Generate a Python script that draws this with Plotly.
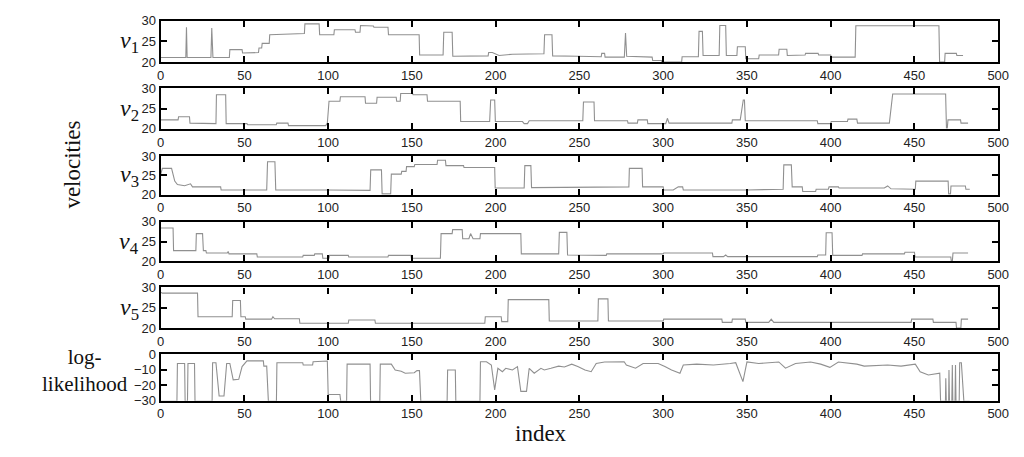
import plotly.graph_objects as go

# ---------------- data ----------------
V1 = [(0,21.1),(15,21.1),(15.4,28.4),(15.8,21.1),(30,21.1),(30.5,28.2),(31.2,21.1),(41,21.1),(41.3,23.0),(48.6,23.0),
      (48.9,22.2),(58.4,22.3),(58.7,23.4),(60.3,23.4),(60.6,24.5),(64.8,24.5),(65.1,26.6),(76,26.7),(85.8,26.9),(86.1,29.2),
      (94.6,29.2),(94.9,26.6),(103.4,26.6),(103.7,27.8),(116,27.8),(116.3,27.2),(119,27.2),(119.3,28.8),(127,28.7),(127.3,28.4),
      (135.7,28.4),(136,26.6),(154.3,26.6),(154.6,21.7),(168.6,21.7),(169,27.2),(174,27.2),(174.4,21.4),(195.5,21.5),(195.8,22.3),
      (198,22.3),(202,21.6),(210,21.9),(228.8,22.0),(229.2,26.6),(233.6,26.6),(234,21.5),(249,21.4),(263,21.3),(263.3,22.1),
      (265,22.1),(265.3,21.2),(276.8,21.2),(277.5,27.0),(278.2,21.4),(293.4,21.2),(293.7,20.4),(299,20.4),(299.3,20.0),(311,20.0),
      (311.3,21.3),(321,21.3),(321.4,27.4),(323.4,27.4),(323.8,21.6),(333.4,21.6),(333.8,28.8),(337.3,28.8),(337.7,21.6),(344,21.6),
      (344.3,23.7),(349,23.7),(349.3,20.8),(357,20.8),(357.3,21.7),(368.9,21.7),(369.2,23.1),(373.8,23.1),(374.1,21.6),(384.7,21.7),
      (385,22.1),(392.5,22.1),(392.8,21.7),(400,21.7),(400.3,21.2),(414.6,21.2),(415,28.75),(464.6,28.75),(465,20.0),(468,20.0),
      (468.3,22.1),(475,22.1),(475.3,21.6),(479,21.6)]

V2 = [(0,22.2),(10.4,22.2),(10.7,23.0),(17.2,23.0),(17.5,21.4),(26,21.4),(33,21.3),(33.3,28.4),(38.8,28.4),(39.1,21.3),
      (51.5,21.3),(52,21.0),(69,21.0),(69.3,21.4),(76,21.4),(76.3,20.8),(98.5,20.8),(99.5,21.4),(100.5,26.8),(107,26.8),
      (107.3,27.9),(122,27.9),(122.3,26.3),(128.9,26.3),(129.2,27.8),(140.6,27.8),(140.9,26.8),(143,26.8),(143.3,28.7),(150.4,28.7),
      (150.7,28.4),(159,28.4),(159.3,26.8),(178.8,26.8),(179.1,21.8),(196.4,21.8),(197,27.1),(199.4,27.1),(199.8,21.8),(216,21.8),
      (217,21.3),(219,21.3),(220,22.0),(252,22.0),(252.4,26.6),(258.7,26.6),(259,22.0),(278.7,22.0),(279,21.4),(284.6,21.4),
      (284.9,22.2),(290.5,22.2),(290.8,21.3),(301.5,21.3),(302.5,22.6),(303.5,21.4),(341,21.4),(341.3,22.2),(346,22.2),(347.8,27.1),
      (348.5,27.1),(349,22.0),(392,22.0),(392.3,21.3),(400,21.3),(400.3,21.8),(410,21.8),(410.3,22.4),(415.6,22.4),(416,21.4),
      (435,21.4),(437,28.6),(468.6,28.6),(469.1,20.2),(469.6,20.2),(470,22.2),(477.5,22.2),(477.8,21.4),(482,21.4)]

V3 = [(0,25.2),(1,26.8),(6.5,26.8),(8.4,23.5),(10,22.6),(14.3,22.3),(17.8,22.8),(19,22.0),(35.8,22.0),(36.1,21.2),
      (63.3,21.2),(63.8,28.5),(68.2,28.5),(68.7,21.2),(100,21.2),(125,21.1),(125.4,26.4),(131.8,26.4),(132.2,20.2),(137.3,20.2),
      (137.7,25.3),(143.6,25.3),(143.9,26.0),(146.5,26.0),(146.8,27.25),(151.4,27.25),(151.7,27.8),(165,27.8),(165.3,28.9),(170,28.9),
      (170.3,27.5),(180.8,27.5),(181.1,27.0),(199.4,27.0),(199.7,21.7),(217,21.7),(217.4,27.5),(221,27.5),(221.4,21.8),(249,21.9),
      (279.5,22.0),(279.8,26.8),(287.4,26.8),(287.7,22.0),(300,22.0),(300.3,21.2),(306,21.2),(309,22.0),(311.6,22.0),(312,21.2),
      (350,21.2),(371.6,21.4),(372,27.7),(376.5,27.7),(377,22.0),(383,22.0),(383.3,20.8),(391,20.8),(391.3,21.4),(398.6,21.4),
      (399,22.0),(404.6,22.0),(405,21.7),(432,21.7),(434,22.25),(436,21.5),(450.5,21.4),(450.8,23.5),(470.1,23.5),(470.4,20.2),
      (471.5,20.2),(471.8,22.25),(480.4,22.25),(480.7,21.4),(483,21.4)]

V4 = [(0,28.4),(7.4,28.4),(7.7,22.7),(21,22.7),(21.3,27.0),(25,27.0),(25.5,22.7),(27,22.7),(27.3,22.1),(39.8,22.1),
      (40.3,22.5),(40.8,21.9),(57.4,21.9),(57.7,21.1),(84.8,21.1),(85.1,21.5),(91.7,21.5),(92,21.9),(96.5,21.9),(96.8,20.8),
      (100.5,20.8),(100.8,21.5),(112,21.5),(112.3,21.1),(135.7,21.1),(136,21.5),(149.4,21.5),(149.7,20.8),(167,20.8),(167.4,27.0),
      (174,27.0),(174.3,28.0),(180,28.0),(180.3,25.7),(184,25.7),(185,27.0),(186.5,25.7),(190.6,25.7),(190.9,27.0),(215,27.0),
      (215.3,21.9),(237.6,21.9),(238,27.3),(242.5,27.3),(242.9,21.6),(266,21.5),(266.3,21.9),(300,21.9),(300.3,22.1),(329.4,22.1),
      (329.7,21.2),(336,21.2),(337.3,21.6),(338.5,21.2),(392,21.2),(392.3,21.6),(397,21.6),(397.3,27.2),(400.8,27.2),(401.2,21.5),
      (418.7,21.5),(419,21.9),(444,21.9),(444.3,22.3),(450,22.3),(450.3,21.1),(471.7,21.1),(472,20.0),(472.6,20.0),(473,22.1),
      (482,22.1)]

V5 = [(0,28.8),(1,28.6),(22,28.6),(22.3,22.8),(42.7,22.8),(43,26.8),(47.6,26.8),(47.9,22.8),(50.5,22.8),(50.8,22.2),
      (66.2,22.2),(67,22.8),(68,22.3),(82.8,22.3),(83.1,21.2),(112,21.2),(112.3,22.0),(127.9,22.0),(128.2,21.2),(193.5,21.2),
      (193.8,22.8),(203.3,22.8),(203.6,21.6),(207.2,21.6),(207.5,27.0),(231.7,27.0),(232,21.76),(261,21.76),(261.3,27.2),(267,27.2),
      (267.3,21.76),(300,21.76),(300.3,22.2),(335,22.2),(335.3,21.4),(341,21.4),(341.3,22.2),(349,22.2),(349.3,21.4),(363,21.4),
      (364.5,22.2),(366,21.4),(448,21.4),(448.3,22.2),(461,22.2),(461.3,21.4),(474.8,21.4),(475.1,20.0),(477.7,20.0),(478,22.2),
      (482,22.2)]

LOGLIK = [(0,-30.5),(9.7,-30.5),(10,-6),(14.3,-6),(14.6,-30.5),(16,-30.5),(16.3,-6),(20.2,-6),(20.5,-30.5),(30.7,-30.5),
          (31,-5.5),(33,-5.5),(34.9,-27),(37.8,-27),(39.4,-6),(41.3,-6),(43.3,-16.6),(46.6,-16.2),(48.6,-8),(51.5,-4.3),
          (61.3,-4.3),(61.6,-7.7),(63.3,-7.7),(64.3,-30.5),(69.1,-30.5),(69.4,-5.5),(84.8,-5.5),(85.1,-7),(90.7,-7),(91,-4.9),
          (99.5,-4.4),(100,-26),(107,-26),(107.5,-30.5),(111,-30.5),(111.3,-6.4),(125,-6.4),(125.3,-30.5),(130.8,-30.5),(131.1,-6.4),
          (137.7,-6.4),(140,-10.2),(143.6,-11),(146,-12.3),(151.4,-12),(153,-10.6),(154.5,-10.6),(155.3,-30.5),(171,-30.5),(171.3,-10.2),
          (175.9,-10.2),(176.2,-30.5),(190.6,-30.5),(190.9,-4.9),(194.5,-4.9),(197.4,-7),(199.4,-23),(201.3,-9.1),(204,-11.3),(206,-9.1),
          (210,-10.2),(213,-8),(215,-24),(218.4,-24),(220,-9.1),(223,-12.3),(227,-9.1),(229,-10.2),(233,-9.1),(237.6,-7.7),
          (241,-8.3),(245.4,-6.4),(249,-8),(253.3,-10.2),(257,-11.3),(260,-6),(265,-5),(276.7,-4.9),(278,-7),(283.5,-9.0),
          (288,-6),(297,-6),(301,-8),(305,-10.2),(310,-12.3),(312,-7),(320,-6.4),(330,-7),(340,-6),(343.3,-5.5),
          (347.6,-17.7),(350,-5),(357,-6),(369,-5),(373,-9),(379,-6),(388,-5),(394,-6.4),(399.5,-8.5),(404.6,-5),
          (415.6,-6.4),(420,-7.7),(434,-7),(442,-7.7),(450.5,-6.4),(453.4,-11.3),(458.3,-13.4),(465.1,-12.3),(465.6,-30.5),(468.5,-30.5),
          (468.7,-15.5),(469,-30.5),(470.4,-30.5),(470.6,-10.2),(470.9,-30.5),(472.3,-30.5),(472.6,-7),(472.9,-30.5),(474.2,-30.5),(474.5,-7),
          (474.8,-30.5),(476.7,-30.5),(477,-5.5),(478,-5.5),(479.5,-30.5),(483,-30.5)]

X_TICKS = [0, 50, 100, 150, 200, 250, 300, 350, 400, 450, 500]
VEL_TICKS = [20, 25, 30]
LL_TICKS = [-30, -20, -10, 0]
VEL_LABELS = ["<i>v</i><sub>1</sub>", "<i>v</i><sub>2</sub>", "<i>v</i><sub>3</sub>",
              "<i>v</i><sub>4</sub>", "<i>v</i><sub>5</sub>"]

# ---------------- layout helpers ----------------
W, H = 1024, 457
def px_x(p): return p / W
def px_y(p): return 1 - p / H

X0, X1 = 159, 1009
panel_px = [(14, 57), (84, 126), (154, 194), (222, 263), (290, 332), (359, 407)]
series = [V1, V2, V3, V4, V5, LOGLIK]

SERIF = "Liberation Serif, Times New Roman, serif"
SANS = "Liberation Sans, Arial, sans-serif"

fig = go.Figure()
layout = dict(width=W, height=H, margin=dict(l=0, r=0, t=0, b=0),
              paper_bgcolor="white", plot_bgcolor="white", showlegend=False)

for i, (data, (top, bot)) in enumerate(zip(series, panel_px)):
    n = i + 1
    xs = [p[0] for p in data]
    ys = [p[1] for p in data]
    fig.add_trace(go.Scatter(x=xs, y=ys, mode="lines",
                             line=dict(color="#909090", width=1.1),
                             xaxis=f"x{n}", yaxis=f"y{n}", hoverinfo="skip"))
    is_ll = (i == 5)
    common = dict(showgrid=False, zeroline=False, showline=True, linecolor="black",
                  linewidth=2.2, mirror="ticks", ticks="inside", ticklen=6,
                  tickwidth=2, tickcolor="black",
                  tickfont=dict(family=SANS, size=13, color="#222"))
    layout[f"xaxis{n}"] = dict(domain=[px_x(X0), px_x(X1)], range=[0, 500],
                               tickvals=X_TICKS, anchor=f"y{n}", **common)
    layout[f"yaxis{n}"] = dict(domain=[px_y(bot), px_y(top)],
                               range=[-30, 0] if is_ll else [20, 30],
                               tickvals=LL_TICKS if is_ll else VEL_TICKS,
                               anchor=f"x{n}", **common)

annotations = []
for i, lab in enumerate(VEL_LABELS):
    top, bot = panel_px[i]
    annotations.append(dict(text=lab, x=px_x(139), y=px_y((top + bot) / 2 + 1), xref="paper", yref="paper",
                            xanchor="right", yanchor="middle", showarrow=False,
                            font=dict(family=SERIF, size=24, color="#111")))
annotations.append(dict(text="velocities", x=px_x(70), y=px_y(163), xref="paper", yref="paper",
                        textangle=-90, xanchor="center", yanchor="middle", showarrow=False,
                        font=dict(family=SERIF, size=23, color="#111")))
annotations.append(dict(text="log-<br>likelihood", x=px_x(82), y=px_y(376), xref="paper", yref="paper",
                        xanchor="center", yanchor="middle", showarrow=False, align="center",
                        font=dict(family=SERIF, size=21, color="#111")))
annotations.append(dict(text="index", x=px_x(545), y=px_y(441), xref="paper", yref="paper",
                        xanchor="center", yanchor="middle", showarrow=False,
                        font=dict(family=SERIF, size=23, color="#111")))
layout["annotations"] = annotations

fig.update_layout(**layout)
fig.write_html("out.html")
